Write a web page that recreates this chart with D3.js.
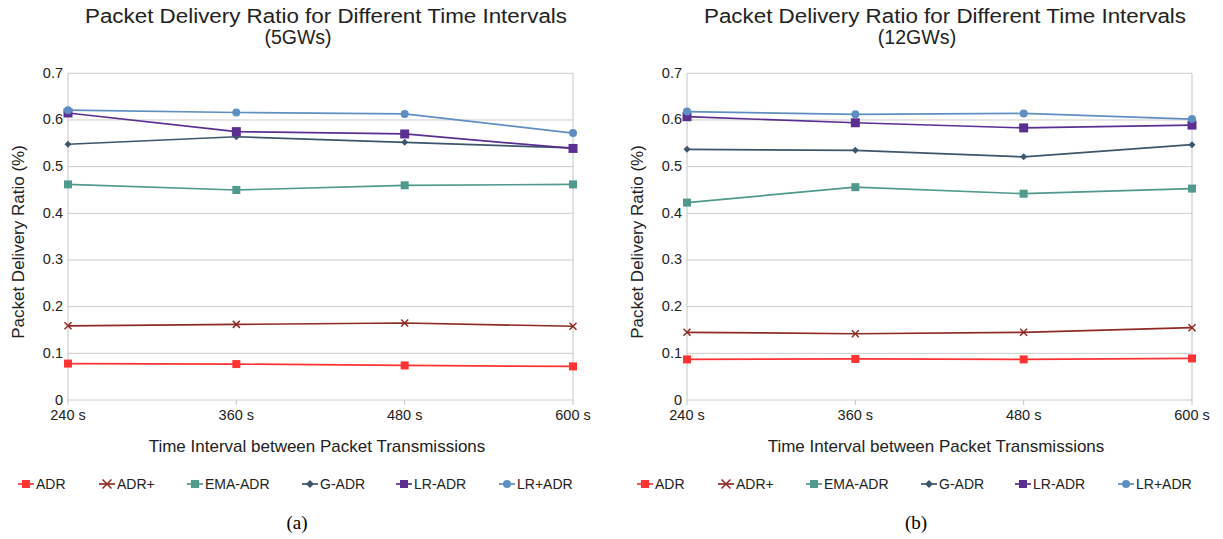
<!DOCTYPE html>
<html>
<head>
<meta charset="utf-8">
<script src="https://cdn.jsdelivr.net/npm/d3@7"></script>
<style>
  body { margin: 0; background: #fff; }
  text { font-family: "Liberation Sans", Arial, sans-serif; fill: #222; }
  text.caption { font-family: "Liberation Serif", "Times New Roman", serif; fill: #000; }
</style>
</head>
<body>
<svg id="chart" width="1223" height="539"></svg>
<script>
// data
const intervals = ["240 s", "360 s", "480 s", "600 s"]
const series_names = ["ADR", "ADR+", "EMA-ADR", "G-ADR", "LR-ADR", "LR+ADR"]
const colors = ["#ff3333", "#8e2b24", "#4f9a8c", "#3d566c", "#5b2f91", "#5f8ec2"]
const symbols = ["square", "cross", "square", "diamond", "square", "circle"]
const y_ticks = [0, 0.1, 0.2, 0.3, 0.4, 0.5, 0.6, 0.7]

const pdr_5gw = [
  [0.078, 0.077, 0.074, 0.072],
  [0.159, 0.162, 0.165, 0.158],
  [0.462, 0.450, 0.460, 0.462],
  [0.548, 0.564, 0.552, 0.540],
  [0.615, 0.575, 0.570, 0.539],
  [0.621, 0.616, 0.613, 0.572]
]
const pdr_12gw = [
  [0.087, 0.088, 0.087, 0.089],
  [0.145, 0.142, 0.145, 0.155],
  [0.423, 0.456, 0.442, 0.453],
  [0.537, 0.535, 0.521, 0.547],
  [0.607, 0.594, 0.583, 0.589],
  [0.618, 0.612, 0.614, 0.602]
]

const panels = [
  {data: pdr_5gw, sub: "(5GWs)", caption: "(a)", dx: 0},
  {data: pdr_12gw, sub: "(12GWs)", caption: "(b)", dx: 619}
]

const svg = d3.select("#chart")

function draw_marker(g, sym, color, size) {
  if (sym == "square") {
    g.append("rect").attr("x", -size / 2).attr("y", -size / 2)
      .attr("width", size).attr("height", size).attr("fill", color)
  } else if (sym == "circle") {
    g.append("circle").attr("r", size / 2).attr("fill", color)
  } else if (sym == "diamond") {
    g.append("path").attr("d", `M0,${-size / 2}L${size / 2},0L0,${size / 2}L${-size / 2},0Z`)
      .attr("fill", color)
  } else {
    let s = size / 2
    g.append("path").attr("d", `M${-s},${-s}L${s},${s}M${-s},${s}L${s},${-s}`)
      .attr("stroke", color).attr("stroke-width", 1.5).attr("fill", "none")
  }
}

function marker_size(i) {
  return i == 4 ? 9 : i == 3 ? 7 : i == 1 ? 7 : 8
}

function draw_panel(p) {
  const g = svg.append("g").attr("transform", `translate(${p.dx},0)`)
  const x = d3.scalePoint().domain(intervals).range([68, 573])
  const y = d3.scaleLinear().domain([0, 0.7]).range([400, 73.3])

  // gridlines
  g.selectAll(".grid").data(y_ticks).enter().append("line")
    .attr("class", "grid")
    .attr("x1", 68).attr("x2", 573)
    .attr("y1", d => y(d)).attr("y2", d => y(d))
    .attr("stroke", "#cccccc").attr("stroke-width", 1)

  // vertical frame lines + x ticks
  g.selectAll(".vline").data(intervals).enter().append("line")
    .attr("x1", d => x(d)).attr("x2", d => x(d))
    .attr("y1", (d, i) => (i == 0 || i == 3) ? 73.3 : 400)
    .attr("y2", 405)
    .attr("stroke", "#c4c4c4")

  // y tick labels
  g.selectAll(".ytick").data(y_ticks).enter().append("text")
    .attr("x", 63).attr("y", d => y(d) + 4.5)
    .attr("text-anchor", "end").attr("font-size", 14.5)
    .text(d => d == 0 ? "0" : d3.format(".1f")(d))

  // x tick labels
  g.selectAll(".xtick").data(intervals).enter().append("text")
    .attr("x", d => x(d)).attr("y", 420)
    .attr("text-anchor", "middle").attr("font-size", 14.5)
    .text(d => d)

  // series lines
  const line = d3.line().x((d, i) => x(intervals[i])).y(d => y(d))
  p.data.forEach((vals, s) => {
    g.append("path").datum(vals)
      .attr("d", line).attr("fill", "none")
      .attr("stroke", colors[s]).attr("stroke-width", 1.7)
    vals.forEach((v, i) => {
      const m = g.append("g").attr("transform", `translate(${x(intervals[i])},${y(v)})`)
      draw_marker(m, symbols[s], colors[s], marker_size(s))
    })
  })

  // titles (reference font is a bit wider than Liberation Sans)
  g.append("text").attr("x", 326).attr("y", 22.5).attr("text-anchor", "middle")
    .attr("font-size", 19.5)
    .attr("textLength", 482).attr("lengthAdjust", "spacingAndGlyphs")
    .text("Packet Delivery Ratio for Different Time Intervals")
  g.append("text").attr("x", 298).attr("y", 44).attr("text-anchor", "middle")
    .attr("font-size", 19.5)
    .attr("textLength", p.sub.length * 11.2).attr("lengthAdjust", "spacingAndGlyphs")
    .text(p.sub)

  g.append("text").attr("x", 317).attr("y", 452).attr("text-anchor", "middle")
    .attr("font-size", 17).text("Time Interval between Packet Transmissions")

  g.append("text").attr("transform", "translate(24,242) rotate(-90)")
    .attr("text-anchor", "middle").attr("font-size", 17)
    .text("Packet Delivery Ratio (%)")

  // legend
  const leg_x = [26, 107, 195, 310, 404, 507]
  series_names.forEach((name, s) => {
    const lg = g.append("g").attr("transform", `translate(${leg_x[s]},484)`)
    lg.append("line").attr("x1", -8).attr("x2", 8)
      .attr("stroke", colors[s]).attr("stroke-width", 1.7)
    draw_marker(lg, symbols[s], colors[s], s == 1 ? 9 : 8)
    lg.append("text").attr("x", 10).attr("y", 5).attr("font-size", 14).text(name)
  })

  g.append("text").attr("class", "caption").attr("x", 297).attr("y", 529)
    .attr("text-anchor", "middle").attr("font-size", 19).text(p.caption)
}

panels.forEach(draw_panel)
</script>
</body>
</html>
